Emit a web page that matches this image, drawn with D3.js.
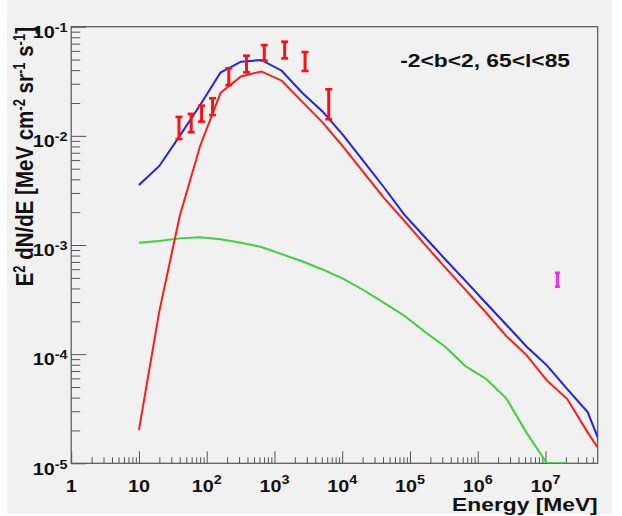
<!DOCTYPE html>
<html>
<head>
<meta charset="utf-8">
<script src="https://cdn.jsdelivr.net/npm/d3@7"></script>
<style>
  body { margin: 0; background: #fff; }
  text { font-family: "Liberation Sans", Arial, Helvetica, sans-serif; font-weight: bold; fill: #111; }
</style>
</head>
<body>
<svg id="canvas" width="622" height="516"></svg>
<script>
// model grid (MeV)
const energies = [10, 20, 40, 80, 160, 320, 640, 1280, 2560, 5120, 10240, 20480, 40960, 81920,
    163840, 327680, 655360, 1310720, 2621440, 5242880, 10485760, 20971520, 41943040, 83886080];

// total (blue), pi0 (red), inverse compton (green)
const totalFlux = [3.55e-3, 5.3e-3, 1.0e-2, 1.92e-2, 3.8e-2, 4.78e-2, 4.96e-2, 3.95e-2, 2.48e-2, 1.675e-2,
    1.02e-2, 5.89e-3, 3.4e-3, 1.91e-3, 1.19e-3, 7.45e-4, 4.72e-4, 2.96e-4, 1.87e-4, 1.175e-4,
    7.9e-5, 4.78e-5, 2.95e-5, 1.0e-5];
const pionFlux = [2.02e-5, 2.48e-4, 1.84e-3, 8.07e-3, 2.48e-2, 3.5e-2, 3.89e-2, 3.2e-2, 2.06e-2, 1.33e-2,
    8.02e-3, 4.65e-3, 2.72e-3, 1.67e-3, 1.02e-3, 6.27e-4, 3.9e-4, 2.42e-4, 1.47e-4, 9.8e-5,
    5.75e-5, 3.88e-5, 1.92e-5, 1.0e-5];
const icFlux = [1.05e-3, 1.09e-3, 1.15e-3, 1.175e-3, 1.13e-3, 1.05e-3, 9.6e-4, 8.24e-4, 7.1e-4, 5.97e-4,
    4.93e-4, 3.87e-4, 2.96e-4, 2.26e-4, 1.61e-4, 1.175e-4, 7.78e-5, 5.98e-5, 3.96e-5, 1.91e-5,
    1.0e-5, 1.0e-5];

// measured points (error bar low / high)
const dataE  = [39, 59, 84, 122, 212, 387, 707, 1414, 2828, 6325];
const dataLo = [0.00935, 0.0108, 0.0135, 0.0155, 0.0292, 0.0382, 0.0489, 0.0513, 0.0393, 0.0142];
const dataHi = [0.0149, 0.0159, 0.0189, 0.0221, 0.0416, 0.0542, 0.0679, 0.0729, 0.0586, 0.0267];

const tevE  = [1.5e7];
const tevLo = [4.15e-4];
const tevHi = [5.57e-4];

const xMajor  = [1, 10, 100, 1e3, 1e4, 1e5, 1e6, 1e7];
const xLabels = [["1", ""], ["10", ""], ["10", "2"], ["10", "3"], ["10", "4"], ["10", "5"], ["10", "6"], ["10", "7"]];
const yMajor  = [1e-5, 1e-4, 1e-3, 1e-2, 1e-1];
const yLabels = [["10", "-5"], ["10", "-4"], ["10", "-3"], ["10", "-2"], ["10", "-1"]];

const xTitle = "Energy [MeV]";
const yTitle = [["E", "2"], [" dN/dE [MeV cm", "-2"], [" sr", "-1"], [" s", "-1"], ["]", ""]];
const regionLabel = "-2<b<2, 65<l<85";

const plotL = 71.2, plotR = 597.7, plotT = 26.7, plotB = 463.3;
const stretch = 1.2; // picture is a bit wider than tall

const svg = d3.select('#canvas');
svg.append('rect').attr('x', 7).attr('y', 0).attr('width', 605).attr('height', 514).style('fill', '#f1f1f1');

const x = d3.scaleLog().domain([1, 5.9e7]).range([plotL, plotR]);
const y = d3.scaleLog().domain([1e-5, 1e-1]).range([plotB, plotT]);

const xMinor = x.ticks().filter(v => !xMajor.includes(v));
const yMinor = y.ticks().filter(v => !yMajor.some(m => Math.abs(m - v) / m < 1e-6));

function styleAxis(g) {
    g.select('.domain').remove();
    g.selectAll('line').style('stroke', '#555').style('stroke-width', 1);
}

// x axis ticks (pointing up)
svg.append('g').attr('transform', `translate(0,${plotB})`)
    .call(d3.axisBottom(x).tickValues(xMajor).tickSize(-12).tickSizeOuter(0).tickFormat(''))
    .call(styleAxis);
svg.append('g').attr('transform', `translate(0,${plotB})`)
    .call(d3.axisBottom(x).tickValues(xMinor).tickSize(-6).tickSizeOuter(0).tickFormat(''))
    .call(styleAxis);

// y axis ticks (pointing right)
svg.append('g').attr('transform', `translate(${plotL},0)`)
    .call(d3.axisLeft(y).tickValues(yMajor).tickSize(-15).tickSizeOuter(0).tickFormat(''))
    .call(styleAxis);
svg.append('g').attr('transform', `translate(${plotL},0)`)
    .call(d3.axisLeft(y).tickValues(yMinor).tickSize(-9).tickSizeOuter(0).tickFormat(''))
    .call(styleAxis);

// frame
svg.append('rect')
    .attr('x', plotL).attr('y', plotT).attr('width', plotR - plotL).attr('height', plotB - plotT)
    .style('fill', 'none').style('stroke', '#555').style('stroke-width', 1.2);

// text pieces with superscripts: [[normal, sup], ...]
function richText(sel, parts, supSize, rise) {
    let back = 0;
    parts.forEach(p => {
        const n = sel.append('tspan').text(p[0]);
        if (back) n.attr('dy', back);
        back = 0;
        if (p[1]) {
            sel.append('tspan').attr('dy', -rise).style('font-size', supSize + 'px').text(p[1]);
            back = rise;
        }
    });
}

// x tick labels
xMajor.forEach((v, i) => {
    const t = svg.append('text')
        .attr('transform', `translate(${x(v)},491.5) scale(${stretch},1)`)
        .attr('text-anchor', 'middle').style('font-size', '16.5px');
    richText(t, [xLabels[i]], 12, 8);
});

// y tick labels
yMajor.forEach((v, i) => {
    const t = svg.append('text')
        .attr('transform', `translate(67.5,${y(v) + 11.3}) scale(${stretch},1)`)
        .attr('text-anchor', 'end').style('font-size', '16.5px');
    richText(t, [yLabels[i]], 12, 6);
});

// titles
svg.append('text')
    .attr('transform', `translate(${plotR},511) scale(${stretch},1)`)
    .attr('text-anchor', 'end').style('font-size', '19px').text(xTitle);

const yt = svg.append('text')
    .attr('transform', `translate(33,27) scale(${stretch},1) rotate(-90)`)
    .attr('text-anchor', 'end').style('font-size', '20.5px');
richText(yt, yTitle, 13, 7);

svg.append('text')
    .attr('transform', `translate(570,66.5) scale(${stretch},1)`)
    .attr('text-anchor', 'end').style('font-size', '19px').text(regionLabel);

// curves
svg.append('clipPath').attr('id', 'plotClip')
    .append('rect').attr('x', plotL).attr('y', plotT).attr('width', plotR - plotL).attr('height', plotB - plotT);

const line = d3.line().x(d => x(d[0])).y(d => y(d[1]));
const curves = [
    {vals: icFlux, color: '#3fcf3f'},
    {vals: pionFlux, color: '#ff1a1a'},
    {vals: totalFlux, color: '#2020f0'}
];
svg.append('g').attr('clip-path', 'url(#plotClip)')
    .selectAll('path')
    .data(curves)
    .join('path')
    .attr('d', c => line(c.vals.map((v, i) => [energies[i], v])))
    .style('fill', 'none')
    .style('stroke', c => c.color)
    .style('stroke-width', 2);

// error bars
function errorBars(es, lo, hi, color, capW) {
    const g = svg.append('g');
    const pts = es.map((e, i) => ({e: e, lo: lo[i], hi: hi[i]}));
    g.selectAll('line.bar').data(pts).join('line').attr('class', 'bar')
        .attr('x1', d => x(d.e)).attr('x2', d => x(d.e))
        .attr('y1', d => y(d.hi)).attr('y2', d => y(d.lo))
        .style('stroke', color).style('stroke-width', 3);
    ['hi', 'lo'].forEach(k => {
        g.selectAll('line.cap' + k).data(pts).join('line').attr('class', 'cap' + k)
            .attr('x1', d => x(d.e) - capW / 2).attr('x2', d => x(d.e) + capW / 2)
            .attr('y1', d => y(d[k])).attr('y2', d => y(d[k]))
            .style('stroke', color).style('stroke-width', 2.6);
    });
}
errorBars(dataE, dataLo, dataHi, '#ff1010', 7);
errorBars(tevE, tevLo, tevHi, '#ff20ff', 5);
</script>
</body>
</html>
